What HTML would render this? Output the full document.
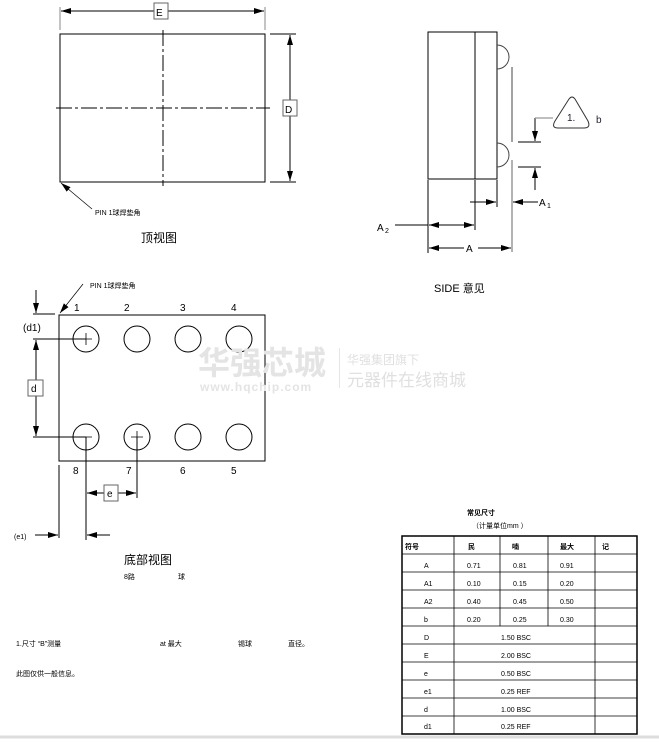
<!DOCTYPE html>
<html><head><meta charset="utf-8"><style>
html,body{margin:0;padding:0;background:#fff;}
svg text{font-family:"Liberation Sans","Noto Sans CJK SC",sans-serif;}
</style></head><body>
<svg width="659" height="739" viewBox="0 0 659 739" xmlns="http://www.w3.org/2000/svg">
<defs>
<marker id="ar" viewBox="0 0 10 6" refX="10" refY="3" markerWidth="10" markerHeight="6" orient="auto-start-reverse" markerUnits="userSpaceOnUse"><path d="M0,0 L10,3 L0,6 z" fill="#000"/></marker>
</defs>
<g fill="none" stroke="#000" stroke-width="1">
<!-- TOP VIEW -->
<rect x="60" y="34" width="205" height="148"/>
<line x1="60" y1="7" x2="60" y2="30" stroke="#888"/>
<line x1="265" y1="7" x2="265" y2="30" stroke="#888"/>
<line x1="61" y1="11" x2="154" y2="11" marker-start="url(#ar)"/>
<line x1="168" y1="11" x2="264" y2="11" marker-end="url(#ar)"/>
<line x1="163" y1="30" x2="163" y2="186" stroke-dasharray="16,3,3,3"/>
<line x1="56" y1="108" x2="270" y2="108" stroke-dasharray="16,3,3,3"/>
<line x1="270" y1="34" x2="296" y2="34"/>
<line x1="270" y1="182" x2="296" y2="182"/>
<line x1="290" y1="35" x2="290" y2="100" marker-start="url(#ar)"/>
<line x1="290" y1="116" x2="290" y2="181" marker-end="url(#ar)"/>
<rect x="154" y="3" width="14" height="16" stroke="#666" fill="#fff"/>
<rect x="283" y="100" width="14" height="16" stroke="#666" fill="#fff"/>
<line x1="61" y1="183" x2="92" y2="209" stroke-width="0.7" marker-start="url(#ar)"/>
<!-- SIDE VIEW -->
<rect x="428" y="32" width="69" height="147"/>
<line x1="475" y1="32" x2="475" y2="179"/>
<path d="M497,45 A12,12 0 0 1 497,69" stroke="#444"/>
<path d="M497,143 A12,12 0 0 1 497,167" stroke="#444"/>
<line x1="512" y1="67" x2="512" y2="142" stroke="#444"/>
<line x1="512" y1="160" x2="512" y2="252" stroke="#666"/>
<line x1="518" y1="142" x2="541" y2="142"/>
<line x1="518" y1="167" x2="541" y2="167"/>
<line x1="535" y1="118" x2="535" y2="141" marker-end="url(#ar)"/>
<line x1="535" y1="190" x2="535" y2="168" marker-end="url(#ar)"/>
<line x1="535" y1="118" x2="553" y2="118" stroke="#999" stroke-width="1.2"/>
<path d="M569,99 Q572,95 575,99 L588,121 Q591,128 584,128 L558,128 Q551,128 555,121 Z" stroke="#333"/>
<line x1="428" y1="180" x2="428" y2="253"/>
<line x1="475" y1="180" x2="475" y2="230"/>
<line x1="497" y1="180" x2="497" y2="207"/>
<line x1="470" y1="202" x2="496" y2="202" marker-end="url(#ar)"/>
<line x1="538" y1="202" x2="513" y2="202" marker-end="url(#ar)"/>
<line x1="395" y1="225" x2="428" y2="225"/>
<line x1="429" y1="225" x2="474" y2="225" marker-start="url(#ar)" marker-end="url(#ar)"/>
<line x1="429" y1="248" x2="464" y2="248" marker-start="url(#ar)"/>
<line x1="478" y1="248" x2="511" y2="248" marker-end="url(#ar)"/>
<!-- BOTTOM VIEW -->
<rect x="59" y="315" width="206" height="146"/>
<circle cx="86" cy="339" r="13"/><circle cx="137" cy="339" r="13"/><circle cx="188" cy="339" r="13"/><circle cx="239" cy="339" r="13"/>
<circle cx="86" cy="437" r="13"/><circle cx="137" cy="437" r="13"/><circle cx="188" cy="437" r="13"/><circle cx="239" cy="437" r="13"/>
<path d="M80,339 h12 M86,333 v12 M80,437 h12 M131,437 h12 M137,431 v12" stroke-width="0.8"/>
<line x1="36" y1="290" x2="36" y2="313" marker-end="url(#ar)"/>
<line x1="33" y1="314" x2="55" y2="314"/>
<line x1="33" y1="339" x2="86" y2="339"/>
<line x1="33" y1="437" x2="86" y2="437"/>
<line x1="36" y1="340" x2="36" y2="380" marker-start="url(#ar)"/>
<line x1="36" y1="396" x2="36" y2="436" marker-end="url(#ar)"/>
<rect x="28" y="380" width="15" height="16" stroke="#666" fill="#fff"/>
<line x1="86" y1="437" x2="86" y2="540"/>
<line x1="137" y1="437" x2="137" y2="498"/>
<line x1="87" y1="493" x2="104" y2="493" marker-start="url(#ar)"/>
<line x1="118" y1="493" x2="136" y2="493" marker-end="url(#ar)"/>
<rect x="104" y="485" width="14" height="16" stroke="#666" fill="#fff"/>
<line x1="59" y1="465" x2="59" y2="538"/>
<line x1="35" y1="535" x2="58" y2="535" marker-end="url(#ar)"/>
<line x1="110" y1="535" x2="87" y2="535" marker-end="url(#ar)"/>
<line x1="83" y1="284" x2="60" y2="313" stroke-width="0.7" marker-end="url(#ar)"/>
<!-- TABLE -->
<rect x="402" y="536" width="235" height="198" stroke-width="1.5"/>
<g stroke-width="0.8">
<line x1="402" y1="554" x2="637" y2="554"/><line x1="402" y1="572" x2="637" y2="572"/>
<line x1="402" y1="590" x2="637" y2="590"/><line x1="402" y1="608" x2="637" y2="608"/>
<line x1="402" y1="626" x2="637" y2="626"/><line x1="402" y1="644" x2="637" y2="644"/>
<line x1="402" y1="662" x2="637" y2="662"/><line x1="402" y1="680" x2="637" y2="680"/>
<line x1="402" y1="698" x2="637" y2="698"/><line x1="402" y1="716" x2="637" y2="716"/>
<line x1="454" y1="536" x2="454" y2="734"/>
<line x1="500" y1="536" x2="500" y2="626"/>
<line x1="548" y1="536" x2="548" y2="626"/>
<line x1="595" y1="536" x2="595" y2="734"/>
</g>
<line x1="0" y1="737" x2="659" y2="737" stroke="#ddd" stroke-width="3"/>
</g>
<!-- watermark -->
<g fill="#e6e6e6">
<text x="198" y="374" font-size="32" font-weight="bold" fill="#e4e4e4">华强芯城</text>
<text x="200" y="391" font-size="12" font-weight="bold" fill="#e4e4e4" letter-spacing="1">www.hqchip.com</text>
<rect x="339" y="348" width="1" height="40"/>
<text x="347" y="364" font-size="12" fill="#e0e0e0">华强集团旗下</text>
<text x="347" y="386" font-size="17" fill="#e0e0e0">元器件在线商城</text>
</g>
<!-- texts -->
<g fill="#000">
<text x="156" y="16" font-size="10">E</text>
<text x="285" y="113" font-size="10">D</text>
<text x="95" y="215" font-size="7">PIN 1球焊垫角</text>
<text x="141" y="242" font-size="12">顶视图</text>
<text x="567" y="121" font-size="10" fill="#223">1.</text>
<text x="596" y="123" font-size="10" fill="#223">b</text>
<text x="539" y="206" font-size="10">A</text><text x="547" y="208" font-size="7">1</text>
<text x="377" y="231" font-size="10">A</text><text x="385" y="233" font-size="7">2</text>
<text x="466" y="252" font-size="10">A</text>
<text x="434" y="292" font-size="11">SIDE 意见</text>
<text x="90" y="288" font-size="7">PIN 1球焊垫角</text>
<text x="74" y="311" font-size="10">1</text><text x="124" y="311" font-size="10">2</text>
<text x="180" y="311" font-size="10">3</text><text x="231" y="311" font-size="10">4</text>
<text x="73" y="474" font-size="10">8</text><text x="126" y="474" font-size="10">7</text>
<text x="180" y="474" font-size="10">6</text><text x="231" y="474" font-size="10">5</text>
<text x="23" y="331" font-size="10">(d1)</text>
<text x="31" y="392" font-size="10">d</text>
<text x="107" y="497" font-size="10">e</text>
<text x="14" y="539" font-size="7">(e1)</text>
<text x="124" y="564" font-size="12">底部视图</text>
<text x="124" y="579" font-size="7">8路</text>
<text x="178" y="579" font-size="7">球</text>
<text x="16" y="646" font-size="7">1.尺寸 “B”测量</text>
<text x="160" y="646" font-size="7">at 最大</text>
<text x="238" y="646" font-size="7">锡球</text>
<text x="288" y="646" font-size="7">直径。</text>
<text x="16" y="676" font-size="7">此图仅供一般信息。</text>
<text x="467" y="515" font-size="7" font-weight="bold">常见尺寸</text>
<text x="472" y="528" font-size="7">（计量单位mm ）</text>
<g font-size="7">
<text x="405" y="549" font-weight="bold">符号</text>
<text x="468" y="549" font-weight="bold">民</text>
<text x="512" y="549" font-weight="bold">喃</text>
<text x="560" y="549" font-weight="bold">最大</text>
<text x="602" y="549" font-weight="bold">记</text>
<text x="424" y="568">A</text><text x="467" y="568">0.71</text><text x="513" y="568">0.81</text><text x="560" y="568">0.91</text>
<text x="424" y="586">A1</text><text x="467" y="586">0.10</text><text x="513" y="586">0.15</text><text x="560" y="586">0.20</text>
<text x="424" y="604">A2</text><text x="467" y="604">0.40</text><text x="513" y="604">0.45</text><text x="560" y="604">0.50</text>
<text x="424" y="622">b</text><text x="467" y="622">0.20</text><text x="513" y="622">0.25</text><text x="560" y="622">0.30</text>
<text x="424" y="640">D</text><text x="501" y="640">1.50 BSC</text>
<text x="424" y="658">E</text><text x="501" y="658">2.00 BSC</text>
<text x="424" y="676">e</text><text x="501" y="676">0.50 BSC</text>
<text x="424" y="694">e1</text><text x="501" y="694">0.25 REF</text>
<text x="424" y="712">d</text><text x="501" y="712">1.00 BSC</text>
<text x="424" y="729">d1</text><text x="501" y="729">0.25 REF</text>
</g>
</g>
</svg>
</body></html>
